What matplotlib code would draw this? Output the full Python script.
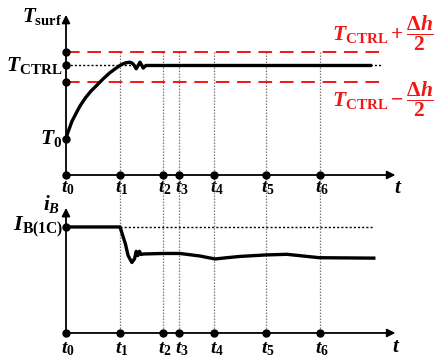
import numpy as np
import matplotlib
matplotlib.use("Agg")
import matplotlib.pyplot as plt

plt.rcParams['mathtext.fontset'] = 'custom'
plt.rcParams['mathtext.rm'] = 'Liberation Serif:bold'
plt.rcParams['mathtext.bf'] = 'Liberation Serif:bold'
plt.rcParams['mathtext.it'] = 'Liberation Serif:italic:bold'
plt.rcParams['mathtext.bfit'] = 'Liberation Serif:italic:bold'
plt.rcParams['font.family'] = 'Liberation Serif'

# --- time marks (t1 = 1) ---
t_marks = [0, 1.0, 1.8, 2.1, 2.75, 3.7, 4.7]
t_names = [r'$\mathbfit{t}_\mathbf{%d}$' % i for i in range(7)]
t_axis_end = 6.1
t_curve_end = 5.67

# --- surface temperature (T0 = 0, T_CTRL = 1) ---
T_ctrl = 1.0
T_upper = 1.18
T_lower = 0.78
T_time = [0, 0.03, 0.07, 0.11, 0.18, 0.26, 0.36, 0.46, 0.57, 0.69, 0.81, 0.92,
          1.02, 1.1, 1.18, 1.23, 1.26, 1.3, 1.37, 1.43, 1.48, t_curve_end]
T_surf = [0, 0.08, 0.16, 0.24, 0.34, 0.45, 0.56, 0.65, 0.73, 0.82, 0.9, 0.96,
          1.01, 1.035, 1.045, 1.03, 1.005, 0.955, 1.045, 0.965, 1.0, 1.0]

# --- battery current (I_B(1C) = 1) ---
I_1c = 1.0
I_time = [0, 1.0, 1.05, 1.1, 1.15, 1.22, 1.27, 1.3, 1.33, 1.36, 1.39, 1.43,
          1.8, 2.11, 2.48, 2.76, 2.94, 3.22, 3.7, 4.09, 4.69, 5.7]
I_B = [1.0, 1.0, 0.92, 0.84, 0.73, 0.665, 0.7, 0.77, 0.73, 0.77, 0.74, 0.745,
       0.75, 0.75, 0.726, 0.698, 0.708, 0.722, 0.736, 0.742, 0.71, 0.706]

fig = plt.figure(figsize=(4.35, 3.6), dpi=100)
ax1 = fig.add_axes([0, 0.5, 1, 0.5])
ax2 = fig.add_axes([0, 0, 1, 0.5])
for ax in (ax1, ax2):
    ax.set_axis_off()
    ax.set_xlim(-66 / 54, 369 / 54)
ax1.set_ylim(-0.558, 1.891)
ax2.set_ylim(-0.255, 1.443)

blk = 'black'
red = '#f21616'
grey = '#7a7a7a'

# ---------- top panel ----------
T_axis_y = -0.49
ax1.annotate('', xy=(t_axis_end, T_axis_y), xytext=(0, T_axis_y),
             arrowprops=dict(arrowstyle='-|>', color=blk, lw=1.3, mutation_scale=12,
                             shrinkA=0, shrinkB=0))
ax1.annotate('', xy=(0, 1.69), xytext=(0, T_axis_y),
             arrowprops=dict(arrowstyle='-|>', color=blk, lw=1.3, mutation_scale=12,
                             shrinkA=0, shrinkB=0))
for lvl in (T_upper, T_lower):
    ax1.plot([0, 5.85], [lvl, lvl], color=red, lw=1.4, dashes=(7, 4), zorder=2)
ax1.plot([0, 5.85], [T_ctrl, T_ctrl], color=blk, lw=1.0, dashes=(1.5, 1.5), zorder=2)
for tm in t_marks[1:]:
    ax1.plot([tm, tm], [T_upper, -0.558], color=grey, lw=0.9, dashes=(1.2, 1.2),
             clip_on=False, zorder=1)
ax1.plot(T_time, T_surf, color=blk, lw=2.4, solid_capstyle='butt', zorder=4)
ax1.plot([0] * 4, [0, T_lower, T_ctrl, T_upper], 'o', color=blk, ms=5, zorder=5,
         clip_on=False)
ax1.plot(t_marks, [T_axis_y] * 7, 'o', color=blk, ms=5, zorder=5)

ax1.text(-0.07, 1.67, r'$\mathbfit{T}_{\mathbf{surf}}$', fontsize=15, ha='right', va='center')
ax1.text(-0.07, T_ctrl, r'$\mathbfit{T}_{\mathbf{CTRL}}$', fontsize=15.5, ha='right', va='center')
ax1.text(-0.07, 0, r'$\mathbfit{T}_{\mathbf{0}}$', fontsize=15.5, ha='right', va='center')
ax1.text(6.82, 1.44, r'$\mathbfit{T}_{\mathbf{CTRL}}+\dfrac{\mathbf{\Delta}\mathbfit{h}}{\mathbf{2}}$',
         fontsize=15.5, color=red, ha='right', va='center')
ax1.text(6.82, 0.54, r'$\mathbfit{T}_{\mathbf{CTRL}}-\dfrac{\mathbf{\Delta}\mathbfit{h}}{\mathbf{2}}$',
         fontsize=15.5, color=red, ha='right', va='center')
for tm, nm in zip(t_marks, t_names):
    ax1.text(tm + 0.04, -0.67, nm, fontsize=14, ha='center', va='center')
ax1.text(6.15, -0.67, r'$\mathbfit{t}$', fontsize=15, ha='center', va='center')

# ---------- bottom panel ----------
ax2.annotate('', xy=(t_axis_end, 0), xytext=(0, 0),
             arrowprops=dict(arrowstyle='-|>', color=blk, lw=1.3, mutation_scale=12,
                             shrinkA=0, shrinkB=0))
ax2.annotate('', xy=(0, 1.18), xytext=(0, 0),
             arrowprops=dict(arrowstyle='-|>', color=blk, lw=1.3, mutation_scale=12,
                             shrinkA=0, shrinkB=0))
ax2.plot([1.0, 5.7], [I_1c, I_1c], color=blk, lw=1.0, dashes=(1.5, 1.5), zorder=2)
for tm in t_marks[1:]:
    ax2.plot([tm, tm], [1.443, 0], color=grey, lw=0.9, dashes=(1.2, 1.2),
             clip_on=False, zorder=1)
ax2.plot(I_time, I_B, color=blk, lw=2.4, zorder=4)
ax2.plot([0], [I_1c], 'o', color=blk, ms=5, zorder=5)
ax2.plot(t_marks, [0] * 7, 'o', color=blk, ms=5, zorder=5)

ax2.text(-0.1, 1.22, r'$\mathbfit{i}_{\mathbfit{B}}$', fontsize=15, ha='right', va='center')
ax2.text(-0.06, I_1c, r'$\mathbfit{I}_{\mathbf{B(1C)}}$', fontsize=16, ha='right', va='center')
for tm, nm in zip(t_marks, t_names):
    ax2.text(tm + 0.04, -0.15, nm, fontsize=14, ha='center', va='center')
ax2.text(6.12, -0.14, r'$\mathbfit{t}$', fontsize=15, ha='center', va='center')

fig.savefig('out.png', dpi=100)
